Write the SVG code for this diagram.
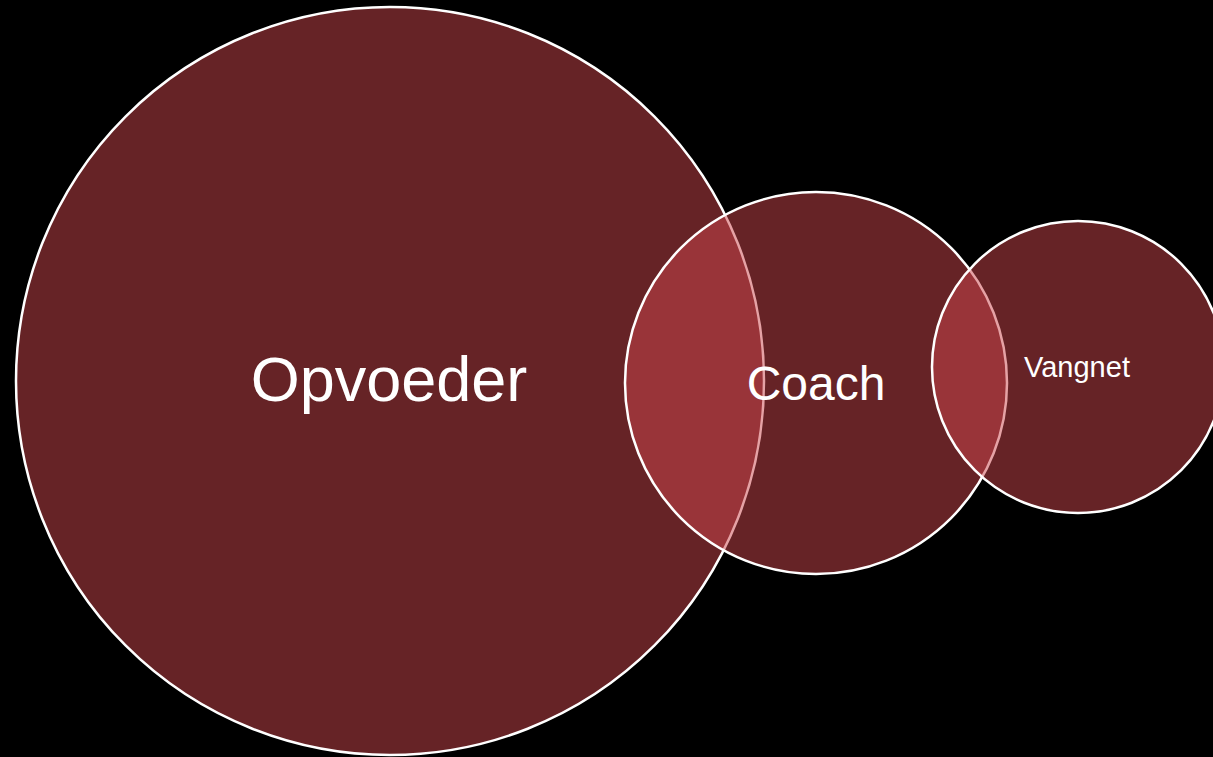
<svg xmlns="http://www.w3.org/2000/svg" width="1213" height="757" viewBox="0 0 1213 757">
  <style>
    .c { fill: #CC464C; fill-opacity: 0.5; stroke: #FFFFFF; stroke-width: 2.5; }
    .t { fill: #FFFFFF; font-family: "Liberation Sans", Arial, sans-serif; text-anchor: middle; }
  </style>
  <rect x="0" y="0" width="1213" height="757" fill="#000000"/>
  <g id="node-opvoeder">
    <circle class="c" cx="390" cy="381" r="374"/>
    <text class="t" x="389" y="401" font-size="63">Opvoeder</text>
  </g>
  <g id="node-coach">
    <circle class="c" cx="816" cy="383" r="191"/>
    <text class="t" x="816" y="400" font-size="48">Coach</text>
  </g>
  <g id="node-vangnet">
    <circle class="c" cx="1078" cy="367" r="146"/>
    <text class="t" x="1077" y="377" font-size="29">Vangnet</text>
  </g>
  <g id="connectors"></g>
</svg>
